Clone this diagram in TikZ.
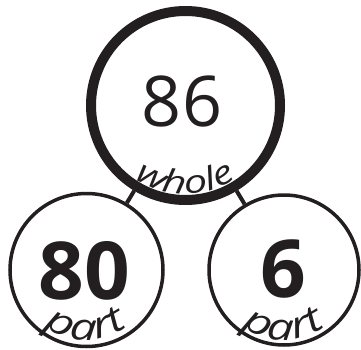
\documentclass[tikz,border=0pt]{standalone}
\usepackage{fontspec}
\setmainfont{Open Sans}
\usetikzlibrary{decorations.text}
\definecolor{ink}{HTML}{231F20}
\newfontfamily\wordfont[FakeStretch=1.3]{Open Sans Italic}

\begin{document}
\begin{tikzpicture}[x=1pt,y=1pt,ring/.style={circle,draw=ink,inner sep=0pt},whole/.style={ring,line width=10pt,minimum size=189pt},part/.style={ring,line width=3.5pt},num/.style={text=ink,inner sep=0pt},link/.style={draw=ink,line width=4pt}]
 \useasboundingbox (0,0) rectangle (361,349);
 \node[whole] (top) at (185.5,243.5) {};
 \node[part,minimum size=153pt] (left) at (86.5,79) {};
 \node[part,minimum size=150pt] (right) at (284,79) {};
 \draw[link] (top) -- (left);
 \draw[link] (top) -- (right);
 \node[num,font=\fontsize{70}{70}\selectfont] (n86) at (182,248) {86};
 \node[num,font=\bfseries\fontsize{80}{80}\selectfont] (n80) at (84,78) {80};
 \node[num,font=\bfseries\fontsize{80}{80}\selectfont] (n6) at (283,80) {6};
 \path[decorate,decoration={text along path,text align=center,text color=ink,text={|\wordfont\fontsize{32}{32}\selectfont|whole}}] ([shift={(205:88.5)}]top.center) arc[start angle=205,end angle=335,radius=88.5];
 \path[decorate,decoration={text along path,text align=center,text color=ink,text={|\wordfont\fontsize{37}{37}\selectfont|part}}] ([shift={(200:70)}]left.center) arc[start angle=200,end angle=340,radius=70];
 \path[decorate,decoration={text along path,text align=center,text color=ink,text={|\wordfont\fontsize{37}{37}\selectfont|part}}] ([shift={(200:70)}]right.center) arc[start angle=200,end angle=340,radius=70];
\end{tikzpicture}
\end{document}
